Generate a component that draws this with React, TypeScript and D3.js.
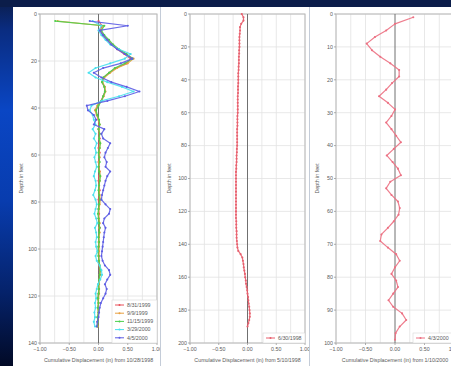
import React from "react";
import * as d3 from "d3";

const W = 451;
const H = 366;

// ---------- Panel 1 data (depth in feet, displacement in inches) ----------
const P1_DEPTHS = [
  3, 5, 7, 9, 11, 13, 15, 17, 19, 21,
  23, 25, 27, 29, 31, 33, 35, 37, 39, 41,
  43, 45, 47, 49, 51, 53, 55, 57, 59, 61,
  63, 65, 67, 69, 71, 73, 75, 77, 79, 81,
  83, 85, 87, 89, 91, 93, 95, 97, 99, 101,
  103, 105, 107, 109, 111, 113, 115, 117, 119, 121,
  123, 125, 127, 129, 131, 133,
];
const S_0831_1999 = [
  0.0, 0.06, 0.03, 0.07, 0.14, 0.22, 0.32, 0.44, 0.55, 0.48,
  0.3, 0.18, 0.09, 0.06, 0.1, 0.11, 0.08, 0.04, -0.01, -0.05,
  -0.03, 0.0, 0.01, 0.0, 0.01, 0.02, 0.01, 0.0, 0.02, 0.01,
  0.0, 0.01, 0.02, 0.01, 0.0, 0.01, 0.02, 0.01, 0.0, 0.01,
  0.0, 0.01, 0.0, 0.01, 0.02, 0.01, 0.0, 0.01, 0.0, 0.0,
  0.01, 0.0, 0.01, 0.02, 0.02, 0.01, 0.0, 0.01, 0.0, -0.01,
  0.0, -0.01, 0.0, -0.01, -0.01, -0.02,
];
const S_0909_1999 = [
  -0.7, 0.08, 0.04, 0.09, 0.16, 0.24, 0.34, 0.47, 0.6, 0.5,
  0.32, 0.2, 0.1, 0.07, 0.11, 0.12, 0.09, 0.05, -0.02, -0.06,
  -0.03, 0.0, 0.02, 0.01, 0.02, 0.01, 0.03, 0.02, 0.01, 0.02,
  0.01, 0.0, 0.02, 0.03, 0.02, 0.01, 0.01, 0.02, 0.03, 0.02,
  0.01, 0.0, 0.01, 0.02, 0.01, 0.02, 0.01, 0.0, 0.01, 0.01,
  0.0, 0.01, 0.02, 0.03, 0.02, 0.02, 0.01, 0.0, 0.01, 0.0,
  0.0, -0.01, 0.0, -0.01, -0.02, -0.01,
];
const S_1115_1999 = [
  -0.74, 0.1, 0.05, 0.1, 0.18, 0.25, 0.35, 0.48, 0.58, 0.45,
  0.28, 0.18, 0.08, 0.06, 0.1, 0.11, 0.08, 0.05, 0.0, -0.04,
  -0.02, 0.01, 0.02, 0.0, 0.02, 0.01, 0.03, 0.02, 0.0, 0.01,
  0.02, 0.0, 0.01, 0.03, 0.02, 0.01, 0.0, 0.01, 0.02, 0.01,
  0.0, -0.01, 0.0, 0.01, 0.02, 0.01, 0.0, 0.01, 0.0, -0.01,
  0.0, 0.01, 0.02, 0.03, 0.02, 0.01, 0.0, 0.01, 0.0, -0.01,
  0.0, -0.01, 0.0, -0.02, -0.01, -0.02,
];
const S_0329_2000 = [
  -0.1, 0.05, 0.0, 0.05, 0.12, 0.2, 0.35, 0.55, 0.45, 0.2,
  -0.05, -0.17, -0.05, 0.15, 0.4, 0.6, 0.35, 0.05, -0.12, -0.15,
  -0.1, -0.08, -0.05, -0.1, -0.05, -0.08, -0.03, -0.06, -0.04, -0.07,
  -0.05, -0.03, -0.06, -0.08, -0.05, -0.04, -0.06, -0.09, -0.05, -0.03,
  -0.05, -0.07, -0.04, -0.02, -0.06, -0.04, -0.03, -0.05, -0.04, -0.02,
  -0.05, -0.03, 0.02, 0.05, 0.06, 0.03, -0.01, -0.03, -0.05, -0.04,
  -0.06, -0.05, -0.07, -0.06, -0.08, -0.06,
];
const S_0405_2000 = [
  -0.15, 0.5, 0.02, 0.08, 0.15, 0.22, 0.32, 0.45, 0.58, 0.38,
  0.08, -0.08, 0.05, 0.22, 0.48, 0.7, 0.45, 0.15, -0.2, -0.18,
  -0.08, -0.04, -0.08, 0.1, 0.05, 0.08, 0.2, 0.16, 0.12, 0.1,
  0.14, 0.12, 0.2, 0.15, 0.12, 0.1, 0.08, 0.06, 0.05, 0.12,
  0.2, 0.18, 0.1, 0.08, 0.12, 0.1, 0.09, 0.08, 0.07, 0.06,
  0.05, 0.07, 0.11, 0.18, 0.2, 0.15, 0.11, 0.14, 0.12, 0.08,
  0.04, 0.02, 0.01, 0.0, -0.02, -0.03,
];

// ---------- Panel 2 data ----------
const P2_DEPTHS = [
  0, 2, 4, 6, 8, 10, 12, 14, 16, 18,
  20, 22, 24, 26, 28, 30, 32, 34, 36, 38,
  40, 42, 44, 46, 48, 50, 52, 54, 56, 58,
  60, 62, 64, 66, 68, 70, 72, 74, 76, 78,
  80, 82, 84, 86, 88, 90, 92, 94, 96, 98,
  100, 102, 104, 106, 108, 110, 112, 114, 116, 118,
  120, 122, 124, 126, 128, 130, 132, 134, 136, 138,
  140, 142, 144, 146, 148, 150, 152, 154, 156, 158,
  160, 162, 164, 166, 168, 170, 172, 174, 176, 178,
  180, 182, 184, 186, 188, 190,
];
const S_0630_1998 = [
  -0.1, -0.07, -0.07, -0.11, -0.13, -0.13, -0.135, -0.14, -0.14, -0.14,
  -0.14, -0.145, -0.145, -0.15, -0.15, -0.15, -0.155, -0.155, -0.16, -0.16,
  -0.16, -0.16, -0.165, -0.165, -0.165, -0.17, -0.17, -0.17, -0.17, -0.17,
  -0.17, -0.175, -0.175, -0.175, -0.175, -0.18, -0.18, -0.18, -0.18, -0.18,
  -0.18, -0.185, -0.185, -0.19, -0.19, -0.19, -0.195, -0.195, -0.2, -0.2,
  -0.2, -0.2, -0.2, -0.2, -0.2, -0.2, -0.2, -0.2, -0.2, -0.2,
  -0.2, -0.2, -0.2, -0.195, -0.195, -0.195, -0.19, -0.19, -0.19, -0.185,
  -0.18, -0.175, -0.16, -0.12, -0.09, -0.08, -0.07, -0.065, -0.055, -0.045,
  -0.04, -0.03, -0.025, -0.015, -0.005, 0.0, 0.01, 0.015, 0.02, 0.03,
  0.035, 0.04, 0.04, 0.03, 0.015, 0.0,
];

// ---------- Panel 3 data ----------
const P3_DEPTHS = [
  1, 3, 5, 7, 9, 11, 13, 15, 17, 19,
  21, 23, 25, 27, 29, 31, 33, 35, 37, 39,
  41, 43, 45, 47, 49, 51, 53, 55, 57, 59,
  61, 63, 65, 67, 69, 71, 73, 75, 77, 79,
  81, 83, 85, 87, 89, 91, 93, 95, 97, 99,
];
const S_0403_2000 = [
  0.31, 0.0, -0.15, -0.34, -0.48, -0.39, -0.25, -0.08, 0.07, 0.07,
  -0.05, -0.15, -0.27, -0.12, 0.0, -0.06, -0.15, -0.06, 0.02, 0.1,
  -0.02, -0.14, -0.04, 0.05, 0.1, -0.08, -0.15, -0.06, 0.05, 0.08,
  0.06, -0.02, -0.12, -0.23, -0.25, -0.12, 0.02, 0.08, 0.0, -0.06,
  0.02, 0.05, -0.03, -0.11, -0.03, 0.12, 0.19, 0.08, 0.01, 0.0,
];

const X_TICKS = [-1, -0.5, 0, 0.5, 1];
const X_GRID = [-1, -0.75, -0.5, -0.25, 0.25, 0.5, 0.75, 1];

const FONT = "'Liberation Sans', Arial, sans-serif";

type Series = { label: string; color: string; depths: number[]; values: number[] };
type PanelCfg = {
  bg: [number, number];
  xl: number;
  xr: number;
  yt: number;
  yb: number;
  maxDepth: number;
  step: number;
  yTitleX: number;
  xTitle: string;
  series: Series[];
  legend: { x: number; y: number; w: number; h: number };
};

const PANELS: PanelCfg[] = [
  {
    bg: [13, 160],
    xl: 40,
    xr: 157,
    yt: 14,
    yb: 343,
    maxDepth: 140,
    step: 20,
    yTitleX: 21,
    xTitle: "Cumulative Displacement (in) from 10/28/1998",
    series: [
      { label: "8/31/1999", color: "#e8505a", depths: P1_DEPTHS, values: S_0831_1999 },
      { label: "9/9/1999", color: "#e8a040", depths: P1_DEPTHS, values: S_0909_1999 },
      { label: "11/15/1999", color: "#4cd04c", depths: P1_DEPTHS, values: S_1115_1999 },
      { label: "3/29/2000", color: "#48e0ee", depths: P1_DEPTHS, values: S_0329_2000 },
      { label: "4/5/2000", color: "#5c5ce4", depths: P1_DEPTHS, values: S_0405_2000 },
    ],
    legend: { x: 112, y: 300, w: 45, h: 43 },
  },
  {
    bg: [161, 309],
    xl: 190,
    xr: 305,
    yt: 14,
    yb: 343,
    maxDepth: 200,
    step: 20,
    yTitleX: 169,
    xTitle: "Cumulative Displacement (in) from 5/10/1998",
    series: [{ label: "6/30/1998", color: "#e8606e", depths: P2_DEPTHS, values: S_0630_1998 }],
    legend: { x: 263, y: 333, w: 42, h: 10 },
  },
  {
    bg: [310, 451],
    xl: 336,
    xr: 454,
    yt: 14,
    yb: 343,
    maxDepth: 100,
    step: 10,
    yTitleX: 317,
    xTitle: "Cumulative Displacement (in) from 1/10/2000",
    series: [{ label: "4/3/2000", color: "#ec7082", depths: P3_DEPTHS, values: S_0403_2000 }],
    legend: { x: 413, y: 333, w: 42, h: 10 },
  },
];

function Panel({ cfg, idx }: { cfg: PanelCfg; idx: number }) {
  const x = d3.scaleLinear().domain([-1, 1]).range([cfg.xl, cfg.xr]);
  const y = d3.scaleLinear().domain([0, cfg.maxDepth]).range([cfg.yt, cfg.yb]);
  const yTicks = d3.range(0, cfg.maxDepth + 0.001, cfg.step);
  const line = d3
    .line<[number, number]>()
    .x((d) => x(d[0]))
    .y((d) => y(d[1]));
  const fontSize = 5.3;
  return (
    <g>
      <rect x={cfg.bg[0]} y={7} width={cfg.bg[1] - cfg.bg[0]} height={H - 7} fill="#ffffff" />
      {/* grid */}
      {X_GRID.map((v) => (
        <line key={"gx" + v} x1={x(v)} x2={x(v)} y1={cfg.yt} y2={cfg.yb} stroke="#e2e2e2" strokeWidth={0.8} />
      ))}
      {yTicks.map((t) => (
        <line key={"gy" + t} x1={cfg.xl} x2={cfg.xr} y1={y(t)} y2={y(t)} stroke="#e2e2e2" strokeWidth={0.8} />
      ))}
      <rect x={cfg.xl} y={cfg.yt} width={cfg.xr - cfg.xl} height={cfg.yb - cfg.yt} fill="none" stroke="#b8b8b8" strokeWidth={1} />
      {/* zero line */}
      <line x1={x(0)} x2={x(0)} y1={cfg.yt} y2={cfg.yb} stroke="#707070" strokeWidth={1} />
      {/* y ticks */}
      {yTicks.map((t) => (
        <g key={"ty" + t}>
          <line x1={cfg.xl - 2} x2={cfg.xl} y1={y(t)} y2={y(t)} stroke="#999" strokeWidth={0.8} />
          <text x={cfg.xl - 3} y={y(t)} dy="0.35em" textAnchor="end" fontSize={fontSize} fill="#5a5a5a" fontFamily={FONT}>
            {d3.format("d")(t)}
          </text>
        </g>
      ))}
      {/* x ticks */}
      {X_TICKS.map((t) => (
        <g key={"tx" + t}>
          <line x1={x(t)} x2={x(t)} y1={cfg.yb} y2={cfg.yb + 2} stroke="#999" strokeWidth={0.8} />
          <text x={x(t)} y={cfg.yb + 6.5} dy="0.35em" textAnchor="middle" fontSize={fontSize} fill="#5a5a5a" fontFamily={FONT}>
            {d3.format(".2f")(t)}
          </text>
        </g>
      ))}
      {/* series */}
      {cfg.series.map((s) => {
        const pts: [number, number][] = s.depths
          .slice(0, s.values.length)
          .map((d, i) => [s.values[i], d]);
        return (
          <g key={s.label}>
            <path d={line(pts) || ""} fill="none" stroke={s.color} strokeWidth={1.2} strokeOpacity={0.9} strokeLinejoin="round" />
            {pts.map((p, i) => (
              <circle key={i} cx={x(p[0])} cy={y(p[1])} r={1.05} fill={s.color} />
            ))}
          </g>
        );
      })}
      {/* legend */}
      <rect x={cfg.legend.x} y={cfg.legend.y} width={cfg.legend.w} height={cfg.legend.h} fill="#fff" stroke="#d8d8d8" strokeWidth={0.6} />
      {cfg.series.map((s, i) => {
        const ly = cfg.legend.y + 5 + i * 8.2;
        const lx = cfg.legend.x + 3;
        return (
          <g key={"lg" + s.label}>
            <line x1={lx} x2={lx + 9} y1={ly} y2={ly} stroke={s.color} strokeWidth={1} />
            <circle cx={lx + 4.5} cy={ly} r={1} fill={s.color} />
            <text x={lx + 12} y={ly} dy="0.35em" fontSize={fontSize} fill="#5a5a5a" fontFamily={FONT}>
              {s.label}
            </text>
          </g>
        );
      })}
      {/* titles */}
      <text
        x={cfg.yTitleX}
        y={(cfg.yt + cfg.yb) / 2}
        transform={`rotate(-90 ${cfg.yTitleX} ${(cfg.yt + cfg.yb) / 2})`}
        textAnchor="middle"
        dy="0.35em"
        fontSize={fontSize}
        fill="#5a5a5a"
        fontFamily={FONT}
      >
        Depth in feet
      </text>
      <text x={(cfg.xl + Math.min(cfg.xr, 454)) / 2} y={360} dy="0.35em" textAnchor="middle" fontSize={fontSize} fill="#5a5a5a" fontFamily={FONT}>
        {cfg.xTitle}
      </text>
      {idx < 2 && <line x1={cfg.bg[1] + 0.5} x2={cfg.bg[1] + 0.5} y1={7} y2={H} stroke="#c4ccd8" strokeWidth={1} />}
    </g>
  );
}

export default function App() {
  return (
    <svg width={W} height={H} style={{ position: "absolute", left: 0, top: 0, display: "block" }}>
      <defs>
        <linearGradient id="bgGrad" x1="0" y1="0" x2="0" y2="1">
          <stop offset="0" stopColor="#0b1d4c" />
          <stop offset="0.08" stopColor="#0a2c80" />
          <stop offset="0.3" stopColor="#0a46c4" />
          <stop offset="0.55" stopColor="#083cae" />
          <stop offset="0.8" stopColor="#05226a" />
          <stop offset="1" stopColor="#020a26" />
        </linearGradient>
      </defs>
      <rect x={0} y={0} width={W} height={H} fill="url(#bgGrad)" />
      <rect x={0} y={0} width={W} height={7} fill="#0b1d4a" />
      {PANELS.map((p, i) => (
        <Panel key={i} cfg={p} idx={i} />
      ))}
    </svg>
  );
}
